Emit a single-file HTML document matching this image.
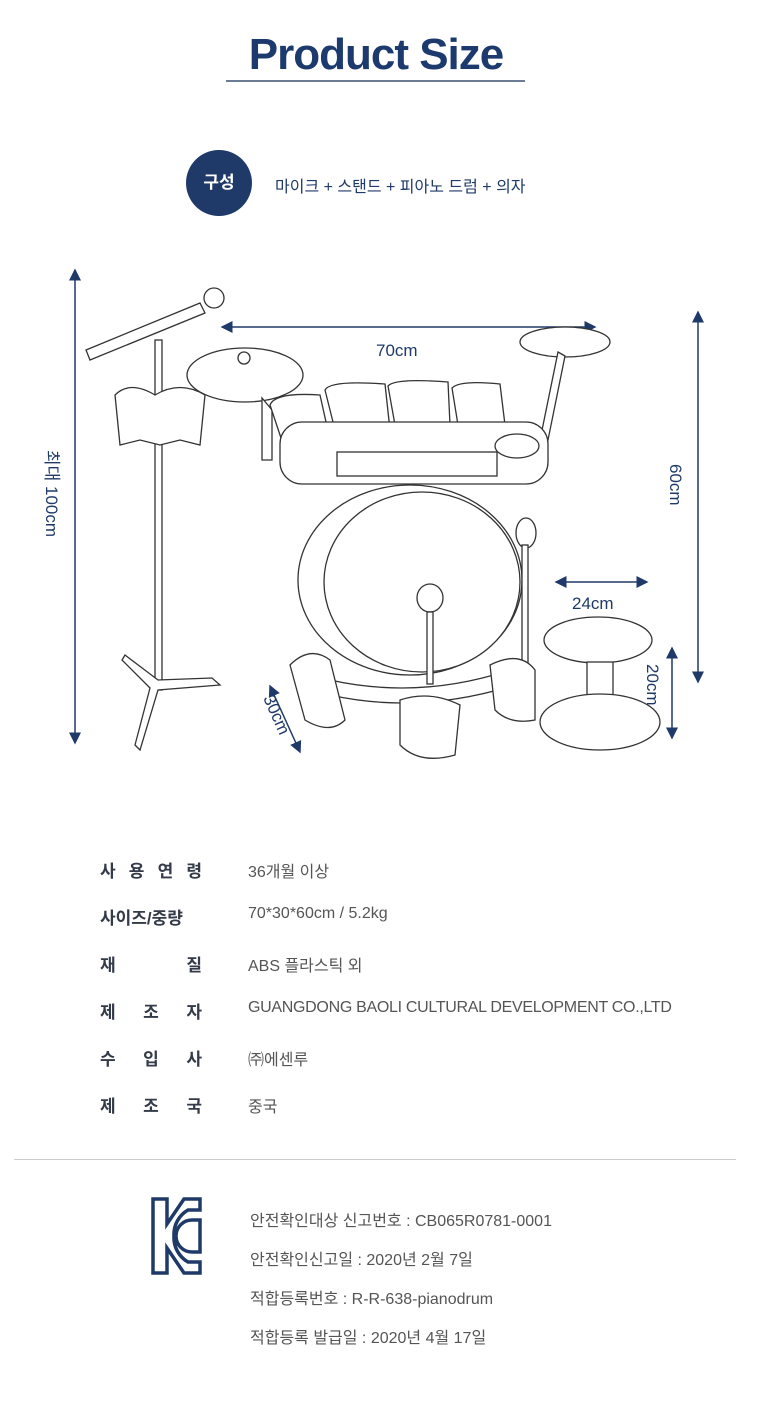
<!DOCTYPE html>
<html><head><meta charset="utf-8"><style>
body{margin:0;background:#fff;width:780px;height:1408px;position:relative;overflow:hidden;font-family:"Liberation Sans","Noto Sans CJK KR",sans-serif}
.a{position:absolute;white-space:nowrap}
.lab{left:100px;width:102px;font-size:17px;font-weight:bold;color:#333a48;display:flex;justify-content:space-between}
.val{left:248px;font-size:16px;color:#555}
.kc{left:250px;font-size:16px;color:#555}
</style></head><body>
<div class="a" style="left:226px;top:30px;width:300px;text-align:center;font-size:44px;font-weight:bold;color:#1c3a6e;letter-spacing:-1px">Product Size</div>
<div class="a" style="left:226px;top:80px;width:299px;height:2px;background:#6d7c95"></div>
<div class="a" style="left:186px;top:150px;width:66px;height:66px;border-radius:50%;background:#1f3a68;color:#fff;font-weight:bold;font-size:17px;line-height:66px;text-align:center">구성</div>
<div class="a" style="left:275px;top:173px;font-size:16px;color:#1f3a68">마이크 + 스탠드 + 피아노 드럼 + 의자</div>

<svg class="a" style="left:0;top:0" width="780" height="800" viewBox="0 0 780 800">
<defs><marker id="m" markerWidth="8" markerHeight="8" refX="7" refY="4" orient="auto-start-reverse"><path d="M0,0 L8,4 L0,8z" fill="#1f3a68"/></marker></defs>
<g stroke="#1f3a68" stroke-width="1.5" fill="none" marker-start="url(#m)" marker-end="url(#m)">
<line x1="75" y1="270" x2="75" y2="743"/>
<line x1="222" y1="327" x2="595" y2="327"/>
<line x1="698" y1="312" x2="698" y2="682"/>
<line x1="556" y1="582" x2="647" y2="582"/>
<line x1="672" y1="648" x2="672" y2="738"/>
<line x1="270" y1="686" x2="300" y2="752"/>
</g>
<g fill="#1f3a68" font-size="17" font-family="Liberation Sans, sans-serif">
<text x="376" y="356">70cm</text>
<text x="572" y="609">24cm</text>
<text transform="translate(46,450) rotate(90)" font-family="Liberation Sans, Noto Sans CJK KR, sans-serif">최대 100cm</text>
<text transform="translate(670,464) rotate(90)">60cm</text>
<text transform="translate(647,664) rotate(90)">20cm</text>
<text transform="translate(263,698) rotate(66)">30cm</text>
</g>
<g stroke="#333" stroke-width="1.3" fill="#fff">
<rect x="155" y="340" width="7" height="350"/>
<path d="M125,655 L158,680 L212,678 L220,685 L158,690 L140,750 L135,745 L150,688 L122,660z"/>
<path d="M86,350 L200,303 L205,313 L90,360z"/>
<circle cx="214" cy="298" r="10"/>
<path d="M115,395 Q130,380 155,395 Q180,380 205,395 L200,445 L180,440 L160,445 L140,440 L120,445z"/>
<ellipse cx="245" cy="375" rx="58" ry="27"/>
<circle cx="244" cy="358" r="6"/>
<ellipse cx="565" cy="342" rx="45" ry="15"/>
<path d="M558,352 L565,356 L548,440 L540,440z"/>
<path d="M262,398 L272,410 L272,460 L262,460z"/>
<path d="M270,405 Q275,392 320,395 L330,440 L285,450z"/>
<path d="M325,390 Q330,380 385,384 L390,430 L335,430z"/>
<path d="M388,386 Q395,378 448,382 L450,425 L395,425z"/>
<path d="M452,388 Q460,380 500,384 L505,425 L458,425z"/>
<rect x="280" y="422" width="268" height="62" rx="22"/>
<rect x="337" y="452" width="160" height="24"/>
<ellipse cx="517" cy="446" rx="22" ry="12"/>
<ellipse cx="410" cy="580" rx="112" ry="95"/>
<ellipse cx="422" cy="582" rx="98" ry="90"/>
<ellipse cx="526" cy="533" rx="10" ry="15"/>
<rect x="522" y="545" width="6" height="120"/>
<path d="M330,680 Q420,700 510,670 L515,685 Q420,715 330,695z"/>
<path d="M290,665 Q310,645 330,660 L345,720 Q330,735 305,720z"/>
<path d="M400,700 Q430,690 460,705 L455,755 Q420,765 400,745z"/>
<path d="M490,665 Q520,650 535,670 L535,720 Q510,725 495,710z"/>
<ellipse cx="430" cy="598" rx="13" ry="14"/>
<rect x="427" y="612" width="6" height="72"/>
<ellipse cx="598" cy="640" rx="54" ry="23"/>
<rect x="587" y="662" width="26" height="38"/>
<ellipse cx="600" cy="722" rx="60" ry="28"/>
</g>
</svg>

<div class="a lab" style="top:857px"><span>사</span><span>용</span><span>연</span><span>령</span></div><div class="a val" style="top:858px">36개월 이상</div>
<div class="a lab" style="top:904px"><span>사이즈/중량</span></div><div class="a val" style="top:905px">70*30*60cm / 5.2kg</div>
<div class="a lab" style="top:951px"><span>재</span><span>질</span></div><div class="a val" style="top:952px">ABS 플라스틱 외</div>
<div class="a lab" style="top:998px"><span>제</span><span>조</span><span>자</span></div><div class="a val" style="top:999px;letter-spacing:-0.3px">GUANGDONG BAOLI CULTURAL DEVELOPMENT CO.,LTD</div>
<div class="a lab" style="top:1045px"><span>수</span><span>입</span><span>사</span></div><div class="a val" style="top:1046px">㈜에센루</div>
<div class="a lab" style="top:1092px"><span>제</span><span>조</span><span>국</span></div><div class="a val" style="top:1093px">중국</div>
<div class="a" style="left:14px;top:1159px;width:722px;height:1px;background:#ccc"></div>
<svg class="a" style="left:150px;top:1196px" width="54" height="80" viewBox="0 0 54 80">
<g fill="none" stroke="#1f3a68" stroke-width="3.5">
<path d="M3,3 H17 V28 L34,3 H50 V14 H38 A28,28 0 0 0 24,40 A28,28 0 0 0 38,66 H50 V77 H34 L17,52 V77 H3z"/>
<path d="M50,24 H42 A16,16 0 0 0 42,56 H50z"/>
</g>
</svg>
<div class="a kc" style="top:1207px">안전확인대상 신고번호 : CB065R0781-0001</div>
<div class="a kc" style="top:1246px">안전확인신고일 : 2020년 2월 7일</div>
<div class="a kc" style="top:1285px">적합등록번호 : R-R-638-pianodrum</div>
<div class="a kc" style="top:1324px">적합등록 발급일 : 2020년 4월 17일</div>
</body></html>
